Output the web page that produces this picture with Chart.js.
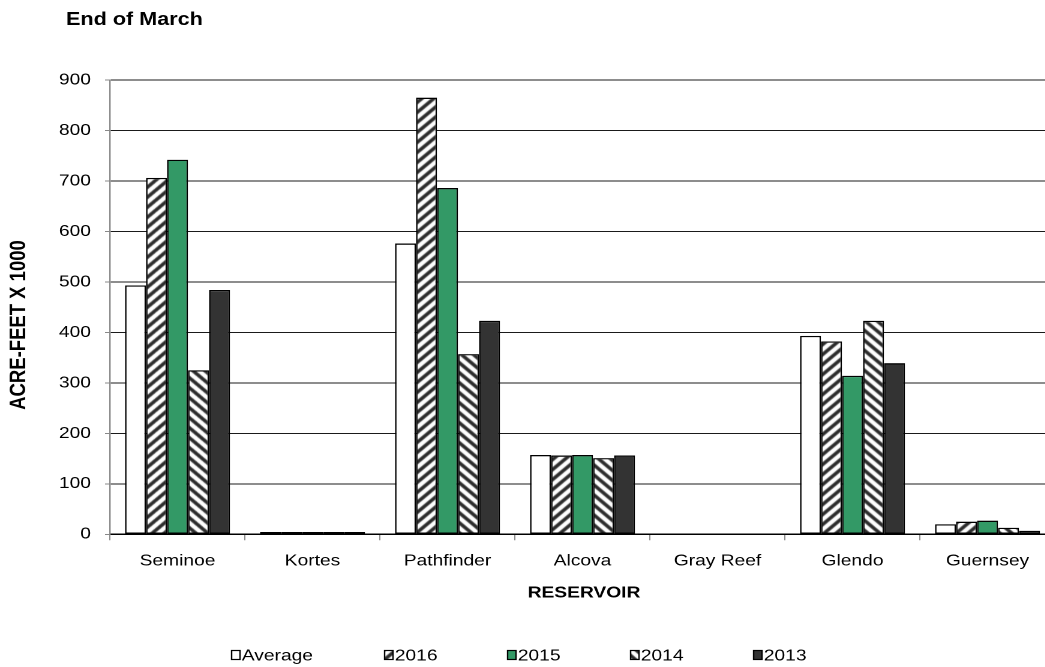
<!DOCTYPE html>
<html>
<head>
<meta charset="utf-8">
<script src="https://cdn.jsdelivr.net/npm/chart.js@4.4.1/dist/chart.umd.min.js"></script>
<style>
  html, body { margin: 0; padding: 0; background: #fff; overflow: hidden; width: 1045px; height: 667px; }
  #wrap { position: absolute; left: 0; top: 0; width: 884px; height: 667px; transform: scaleX(1.2); transform-origin: 0 0; }
</style>
</head>
<body>
<div id="wrap"><canvas id="c" width="884" height="667"></canvas></div>
<script>
// Reservoir storage at the end of March, thousands of acre-feet
const reservoirs = ['Seminoe', 'Kortes', 'Pathfinder', 'Alcova', 'Gray Reef', 'Glendo', 'Guernsey'];
const average = [493, 4.5, 576, 157, 1.5, 393, 20];
const y2016   = [706, 4.5, 865, 156, 1.5, 382, 25];
const y2015   = [742, 4.5, 686, 157, 1.5, 314, 27];
const y2014   = [325, 4.5, 357, 151, 1.5, 423, 13];
const y2013   = [484, 4.5, 423, 156, 1.5, 339, 7];
const yTicks  = [0, 100, 200, 300, 400, 500, 600, 700, 800, 900];

const FONT = '"Liberation Sans", Arial, sans-serif';
const SX = 1.2;              // horizontal stretch of the page wrapper
const W = 884;               // logical canvas width
const px = v => v / SX;      // page x -> canvas x

const canvas = document.getElementById('c');
const ctx = canvas.getContext('2d');

// Diagonal hatch fills
function hatch(rising) {
  const s = 10;
  const t = document.createElement('canvas');
  t.width = s; t.height = s;
  const g = t.getContext('2d');
  g.fillStyle = '#ffffff';
  g.fillRect(0, 0, s, s);
  g.strokeStyle = '#2b2b2b';
  g.lineWidth = 3.2;
  g.beginPath();
  for (let k = -1; k <= 1; k++) {
    if (rising) { g.moveTo(k * s - 2, s + 2); g.lineTo(k * s + s + 2, -2); }
    else        { g.moveTo(k * s - 2, -2);    g.lineTo(k * s + s + 2, s + 2); }
  }
  g.stroke();
  return ctx.createPattern(t, 'repeat');
}
const fill2016 = hatch(true);
const fill2014 = hatch(false);

const series = [
  { label: 'Average', data: average, fill: '#ffffff' },
  { label: '2016',    data: y2016,   fill: fill2016 },
  { label: '2015',    data: y2015,   fill: '#339966' },
  { label: '2014',    data: y2014,   fill: fill2014 },
  { label: '2013',    data: y2013,   fill: '#333333' }
];

// Titles and legend placed at fixed spots around the plot
const decorations = {
  id: 'decorations',
  afterDraw(chart) {
    const c = chart.ctx;
    c.save();
    c.fillStyle = '#000';
    c.textBaseline = 'middle';

    c.font = 'bold 18px ' + FONT;
    c.textAlign = 'left';
    c.fillText('End of March', px(66), 20);

    c.font = 'bold 16px ' + FONT;
    c.textAlign = 'center';
    c.fillText('RESERVOIR', px(584), 593);

    c.font = 'bold 18.5px ' + FONT;
    c.save();
    c.translate(px(19), 325);
    c.rotate(-Math.PI / 2);
    c.fillText('ACRE-FEET X 1000', 0, 0);
    c.restore();

    // legend
    const xs = [231, 384, 507, 630, 753];
    const ly = 655;
    c.font = '16px ' + FONT;
    c.textAlign = 'left';
    chart.data.datasets.forEach((ds, i) => {
      const x = px(xs[i]);
      c.fillStyle = ds.backgroundColor;
      c.fillRect(x, ly - 5, 8, 10);
      c.strokeStyle = '#000';
      c.lineWidth = 1.2;
      c.strokeRect(x + 0.5, ly - 4.5, 7, 9);
      c.fillStyle = '#000';
      c.fillText(ds.label, x + 9, ly + 1);
    });
    c.restore();
  }
};

new Chart(canvas, {
  type: 'bar',
  data: {
    labels: reservoirs,
    datasets: series.map(s => ({
      label: s.label,
      data: s.data,
      backgroundColor: s.fill,
      borderColor: '#000000',
      borderWidth: 1.3,
      borderSkipped: false,
      categoryPercentage: 0.778,
      barPercentage: 1.0
    }))
  },
  options: {
    responsive: false,
    animation: false,
    devicePixelRatio: 2,
    layout: { padding: { top: 80, left: 0, right: W - px(1055), bottom: 0 } },
    plugins: { legend: { display: false }, title: { display: false }, tooltip: { enabled: false } },
    scales: {
      x: {
        offset: true,
        grid: { offset: true, drawOnChartArea: false, drawTicks: true, tickLength: 6, color: '#888888' },
        border: { color: '#000000', width: 1.5 },
        ticks: { color: '#000', font: { family: FONT, size: 16 }, padding: 11, maxRotation: 0 },
        afterFit(scale) { scale.height = 132.7; }
      },
      y: {
        min: 0, max: 900,
        afterBuildTicks(scale) { scale.ticks = yTicks.map(v => ({ value: v })); },
        grid: { color: '#1a1a1a', lineWidth: 1, drawTicks: true, tickLength: px(5), tickColor: '#888888' },
        border: { color: '#888888', width: 1.2 },
        ticks: { color: '#000', font: { family: FONT, size: 16 }, padding: px(14) },
        afterFit(scale) { scale.width = px(110); }
      }
    }
  },
  plugins: [decorations]
});
</script>
</body>
</html>
